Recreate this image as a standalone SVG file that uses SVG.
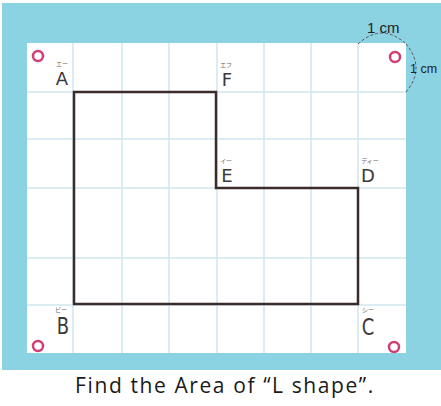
<svg xmlns="http://www.w3.org/2000/svg" width="441" height="406" viewBox="0 0 441 406">
<style>
.grid{stroke:#cfe7ef;stroke-width:1.5;fill:none}
.ring{fill:#fff;stroke:#d23d74;stroke-width:2.5}
.lbl{font-family:"DejaVu Sans",sans-serif;font-size:18px;fill:#3a3a3a;text-anchor:middle}
.kana{font-family:"Noto Sans CJK JP",sans-serif;font-size:6px;fill:#666;text-anchor:middle}
.cm{font-family:"Liberation Sans",sans-serif;font-size:15px;fill:#222}
.dash{fill:none;stroke:#555;stroke-width:1;stroke-dasharray:3 2}
.cap{font-family:"Open Sans",sans-serif;font-size:21px;fill:#1a1a1a;text-anchor:middle;letter-spacing:1.6px}
</style>
<rect x="0" y="0" width="441" height="406" fill="#ffffff"/>
<rect x="2" y="3" width="439" height="367" fill="#8bd2e3"/>
<rect x="27" y="43" width="379" height="310" fill="#ffffff"/>
<g id="grid" class="grid">
<path d="M73,43V353M122,43V353M169,43V353M217,43V353M264,43V353M311,43V353M358,43V353"/>
<path d="M27,92H406M27,139H406M27,188H406M27,258H406M27,305H406"/>
</g>
<g id="connectors">
<path id="lshape" d="M74,92H216V188H358V304H74Z" fill="none" stroke="#3b2b2b" stroke-width="2.5" stroke-linejoin="miter"/>
<path class="dash" d="M358,44Q382,22 406,44"/>
<path class="dash" d="M406,44Q426,68 406,92"/>
</g>
<g id="corners">
<circle class="ring" cx="38" cy="56" r="5"/>
<circle class="ring" cx="395" cy="57" r="5"/>
<circle class="ring" cx="38" cy="346" r="5"/>
<circle class="ring" cx="394" cy="347" r="5"/>
</g>
<g id="node-A"><text class="kana" x="62" y="66">エー</text><text class="lbl" x="62" y="85">A</text></g>
<g id="node-F"><text class="kana" x="226" y="67">エフ</text><text class="lbl" x="227" y="86">F</text></g>
<g id="node-E"><text class="kana" x="226" y="163">イー</text><text class="lbl" x="227" y="182">E</text></g>
<g id="node-D"><text class="kana" x="370" y="163">ディー</text><text class="lbl" x="368" y="182">D</text></g>
<g id="node-B"><text class="kana" x="61" y="312">ビー</text><text class="lbl" transform="translate(63,334) scale(1,1.3)" x="0" y="0">B</text></g>
<g id="node-C"><text class="kana" x="368" y="312">シー</text><text class="lbl" transform="translate(368,335) scale(1,1.3)" x="0" y="0">C</text></g>
<g id="unit-labels">
<text class="cm" x="367" y="33">1 cm</text>
<text class="cm" x="410" y="73" style="font-size:12.5px">1 cm</text>
</g>
<text class="cap" x="225" y="393">Find the Area of “L shape”.</text>
</svg>
